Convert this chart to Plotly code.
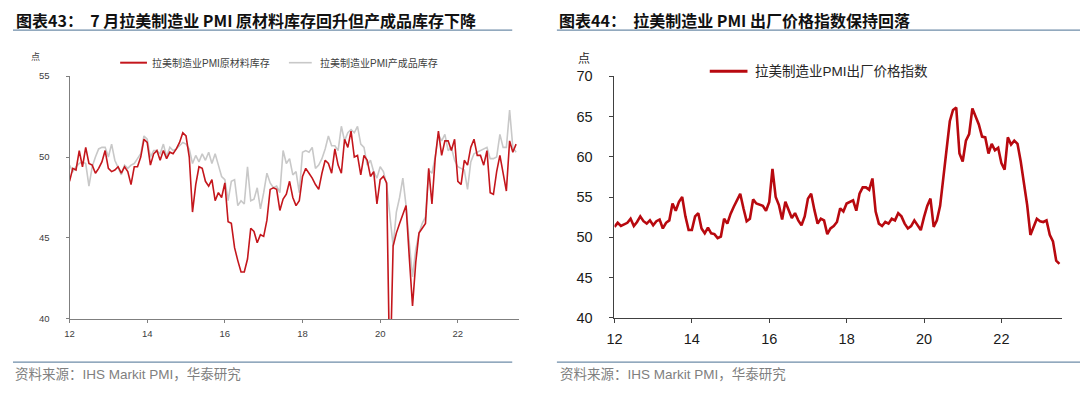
import plotly.graph_objects as go

# ---------------- data (monthly, Jan 2012 - Jul 2023) ----------------
start_year = 2012
raw_inventory = [
    48.5, 49.3, 49.2, 50.4, 49.4, 50.6, 49.6, 49.5, 49.0, 49.3, 49.7, 50.4,
    49.3, 49.1, 49.2, 49.4, 49.0, 49.4, 49.1, 48.3, 49.4, 49.4, 50.0, 51.1,
    50.9, 49.5, 50.2, 50.4, 49.8, 50.4, 49.9, 50.3, 50.2, 50.5, 50.9, 51.5,
    51.3, 50.0, 46.6, 48.3, 49.4, 49.3, 48.5, 48.2, 48.6, 47.3, 47.8, 47.5,
    48.4, 46.0, 45.9, 44.4, 43.6, 42.9, 42.9, 43.7, 45.6, 45.4, 44.7, 45.2,
    45.1, 46.1, 48.0, 48.1, 48.0, 46.7, 47.4, 47.7, 48.5, 47.5, 47.0, 47.3,
    48.8, 49.3, 49.0, 48.7, 48.3, 48.0, 49.0, 49.8, 49.6, 49.0, 50.5, 49.5,
    49.0, 51.1, 50.6, 51.6, 50.0, 50.1, 48.9, 50.1, 49.8, 48.8, 49.1, 47.1,
    48.6, 48.8, 48.4, 36.0, 44.5, 45.3, 45.9, 46.5, 47.0, 43.8, 40.8, 43.5,
    45.3, 45.6, 45.9, 49.3, 47.1, 49.9, 51.6, 50.1, 51.0, 51.0, 50.4, 51.1,
    48.5, 48.3, 49.8, 49.5, 50.6, 51.1, 50.1, 50.1, 49.5, 50.4, 47.8, 47.7,
    49.1, 50.1, 48.9, 47.9, 51.0, 50.3, 50.8,
]
finished_inventory = [
    49.5, 49.1, 49.4, 49.6, 49.7, 49.6, 48.2, 49.4, 50.0, 50.5, 50.6, 50.6,
    50.0, 50.8, 49.8, 49.4, 48.9, 49.5, 49.3, 49.5, 49.6, 49.9, 50.2, 51.3,
    51.1, 50.0, 50.4, 50.4, 50.2, 50.8, 50.0, 50.6, 50.4, 50.5, 50.7, 50.9,
    50.8, 50.5, 49.6, 50.1, 49.7, 50.2, 49.8, 50.3, 49.6, 50.2, 49.5, 48.8,
    48.6, 47.3, 48.5, 48.6, 47.0, 47.3, 47.1, 49.4, 47.3, 47.4, 48.1, 46.8,
    47.8, 49.0, 48.4, 48.1, 48.2, 47.8, 50.4, 49.6, 49.9, 48.9, 49.1, 47.8,
    50.3, 50.4, 50.3, 50.6, 49.3, 49.5, 49.9, 50.5, 51.3, 50.7, 50.7, 50.4,
    51.9, 51.0, 51.5, 51.7, 51.5, 51.9, 50.8, 50.6, 49.5, 49.8, 49.1, 48.7,
    49.4, 49.1, 48.3, 46.5, 44.5, 46.6, 47.5, 48.7, 47.0, 44.7, 42.6, 44.3,
    45.3, 45.9, 46.3, 49.2, 49.0, 50.0, 51.4, 51.0, 51.4, 50.4, 50.6, 49.8,
    49.4, 49.3, 49.2, 48.0, 49.7, 50.2, 50.3, 50.4, 50.5, 50.6, 49.9, 49.9,
    50.0, 51.4, 50.6, 50.6, 52.9, 50.6, 50.3,
]
output_price = [
    51.3, 51.8, 51.4, 51.6, 51.8, 52.3, 51.4, 51.9, 52.6, 52.0, 51.7, 52.1,
    51.5, 52.0, 52.2, 51.1, 51.8, 52.1, 54.2, 53.3, 54.4, 55.0, 52.6, 50.9,
    50.9, 52.6, 53.0, 51.1, 50.5, 51.2, 50.5, 50.4, 49.9, 50.1, 52.3, 51.7,
    52.9, 53.8, 54.6, 55.4, 53.6, 52.0, 52.3, 54.7, 54.2, 54.0, 53.9, 53.3,
    54.4, 58.5, 55.0, 54.0, 52.2, 54.4, 53.4, 52.4, 53.0, 52.1, 51.5, 52.6,
    54.8, 55.4, 53.4, 51.7, 52.3, 52.1, 50.4, 51.1, 51.4, 51.9, 53.6, 53.2,
    54.2, 54.4, 54.6, 53.3, 55.4, 56.2, 56.2, 55.9, 57.3, 53.2, 51.7, 51.4,
    51.9, 51.7, 52.3, 52.1, 53.0, 52.6, 51.7, 51.1, 51.4, 52.1, 51.5, 50.9,
    52.5, 53.9, 54.8, 51.3, 52.1, 53.9, 57.4, 60.8, 64.4, 65.8, 66.1, 60.4,
    59.4, 62.0, 62.8, 66.0, 65.1, 64.0, 62.5, 62.4, 60.4, 61.6, 60.8, 61.1,
    59.2, 58.4, 62.4, 61.5, 62.0, 61.6, 59.4, 56.8, 54.0, 50.3, 51.3, 52.3,
    52.0, 51.9, 52.1, 50.3, 49.5, 47.1, 46.7,
]
tick_years = [2012, 2014, 2016, 2018, 2020, 2022]
tick_labels = ["12", "14", "16", "18", "20", "22"]

dates = [start_year + i / 12 for i in range(len(output_price))]

# ---------------- figure ----------------
W, H = 1080, 395
def px(x):
    return x / W
def py(y):
    return 1 - y / H

CJK = "Liberation Sans, Arial, Noto Sans CJK SC, sans-serif"
RED_L = "#c4161c"
RED_R = "#b8090f"
GRAY = "#c8c8c8"

fig = go.Figure()
fig.add_trace(go.Scatter(x=dates, y=finished_inventory, mode="lines",
                         line=dict(color=GRAY, width=1.6), xaxis="x", yaxis="y",
                         name="拉美制造业PMI产成品库存"))
fig.add_trace(go.Scatter(x=dates, y=raw_inventory, mode="lines",
                         line=dict(color=RED_L, width=1.6), xaxis="x", yaxis="y",
                         name="拉美制造业PMI原材料库存"))
fig.add_trace(go.Scatter(x=dates, y=output_price, mode="lines",
                         line=dict(color=RED_R, width=2.6), xaxis="x2", yaxis="y2",
                         name="拉美制造业PMI出厂价格指数"))

axis_common = dict(showgrid=False, zeroline=False, showline=True, ticks="outside")

fig.update_layout(
    width=W, height=H, margin=dict(l=0, r=0, t=0, b=0),
    paper_bgcolor="white", plot_bgcolor="white", showlegend=False,
    font=dict(family=CJK),
    xaxis=dict(axis_common, domain=[px(62), px(515)], range=[2012, 2023.58],
               tickvals=tick_years, ticktext=tick_labels, anchor="y",
               linecolor="#7f7f7f", tickcolor="#7f7f7f", ticklen=3,
               tickfont=dict(size=9.5, color="#404040"), ticklabelstandoff=3),
    yaxis=dict(axis_common, domain=[py(324), py(71)], range=[40, 55], dtick=5,
               anchor="x", linecolor="#7f7f7f", tickcolor="#7f7f7f", ticklen=3,
               tickfont=dict(size=9.5, color="#404040"), ticklabelstandoff=14),
    xaxis2=dict(axis_common, domain=[px(611), px(1062)], range=[2012, 2023.57],
                tickvals=tick_years, ticktext=tick_labels, anchor="y2",
                linecolor="#404040", tickcolor="#404040", ticklen=4,
                tickfont=dict(size=14.5, color="#1a1a1a"), ticklabelstandoff=4),
    yaxis2=dict(axis_common, domain=[py(323), py(71)], range=[40, 70], dtick=5,
                anchor="x2", linecolor="#404040", tickcolor="#404040", ticklen=4,
                tickfont=dict(size=14.5, color="#1a1a1a"), ticklabelstandoff=14),
)

TITLE_FONT = dict(family="Noto Sans CJK SC, sans-serif", size=16, color="#111111", weight="bold")
SRC_FONT = dict(family="Liberation Sans, Noto Sans CJK SC, sans-serif", size=13.5, color="#7f7f7f")

annotations = [
    dict(text="图表43：\u00a0 7 月拉美制造业 PMI 原材料库存回升但产成品库存下降",
         x=px(6), y=py(12), font=TITLE_FONT),
    dict(text="图表44：\u00a0 拉美制造业 PMI 出厂价格指数保持回落",
         x=px(553), y=py(12), font=TITLE_FONT),
    dict(text="资料来源：IHS Markit PMI，华泰研究", x=px(5), y=py(382), font=SRC_FONT),
    dict(text="资料来源：IHS Markit PMI，华泰研究", x=px(554), y=py(382), font=SRC_FONT),
    dict(text="点", x=px(21), y=py(51), font=dict(size=9, color="#404040")),
    dict(text="点", x=px(572), y=py(53), font=dict(size=12, color="#262626")),
    dict(text="拉美制造业PMI原材料库存", x=px(143), y=py(57),
         font=dict(size=10, color="#404040")),
    dict(text="拉美制造业PMI产成品库存", x=px(312), y=py(57),
         font=dict(size=10, color="#404040")),
    dict(text="拉美制造业PMI出厂价格指数", x=px(751), y=py(66),
         font=dict(size=13.5, color="#262626")),
]
for a in annotations:
    a.update(xref="paper", yref="paper", xanchor="left", yanchor="middle", showarrow=False)
fig.update_layout(annotations=annotations)

RULE = "#6e8ca8"
shapes = [
    dict(type="line", x0=px(5), x1=px(508), y0=py(23), y1=py(23), line=dict(color=RULE, width=1.2)),
    dict(type="line", x0=px(553), x1=px(1080), y0=py(23), y1=py(23), line=dict(color=RULE, width=1.2)),
    dict(type="line", x0=px(5), x1=px(508), y0=py(369), y1=py(369), line=dict(color=RULE, width=1.2)),
    dict(type="line", x0=px(553), x1=px(1080), y0=py(369), y1=py(369), line=dict(color=RULE, width=1.2)),
    dict(type="line", x0=px(113), x1=px(140), y0=py(57), y1=py(57), line=dict(color=RED_L, width=2)),
    dict(type="line", x0=px(283), x1=px(306), y0=py(57), y1=py(57), line=dict(color=GRAY, width=1.6)),
    dict(type="line", x0=px(707), x1=px(745), y0=py(66), y1=py(66), line=dict(color=RED_R, width=3)),
]
for s in shapes:
    s.update(xref="paper", yref="paper")
fig.update_layout(shapes=shapes)

fig.write_html("out.html")
